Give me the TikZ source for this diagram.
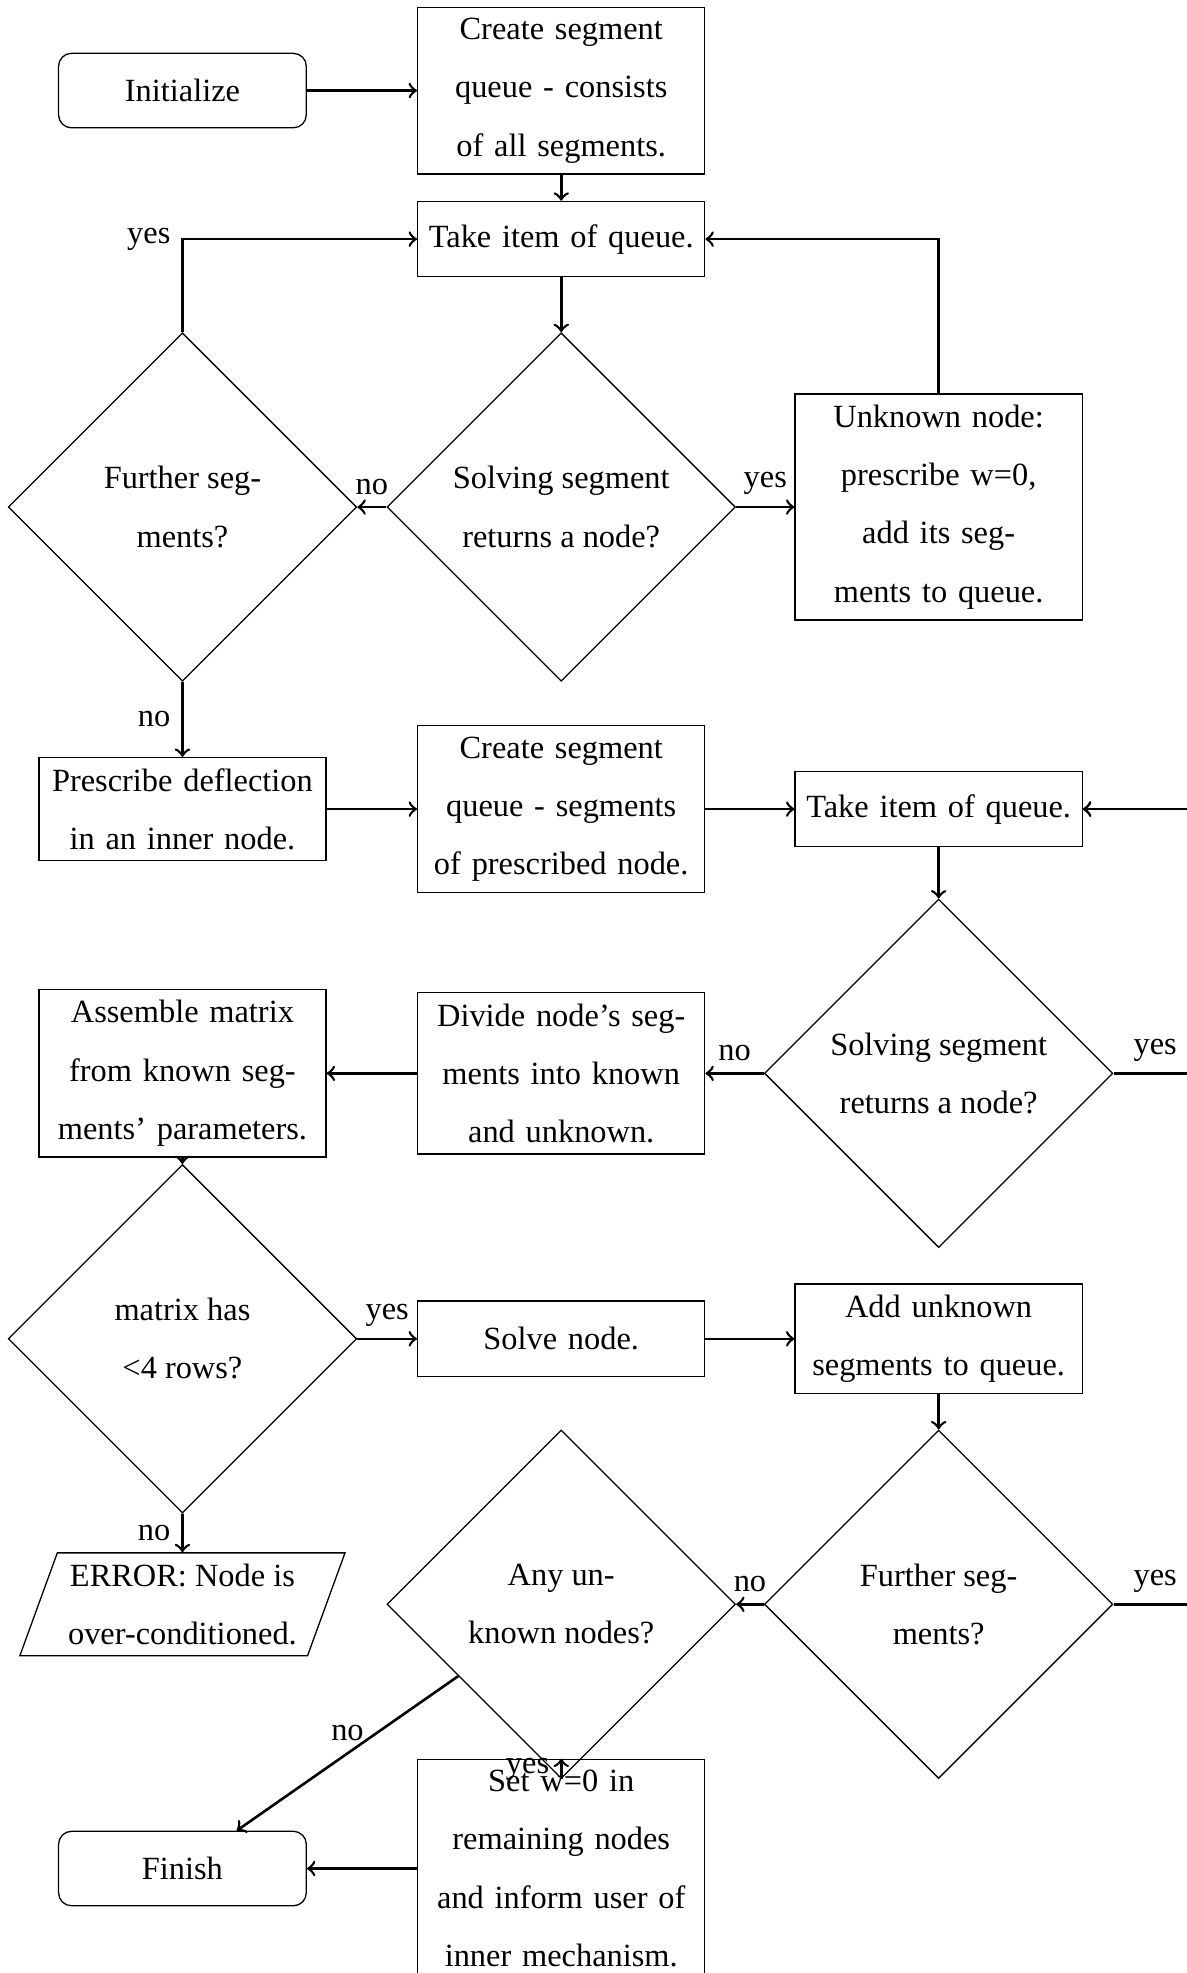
\documentclass[tikz,border=0pt]{standalone}
\usepackage{fontspec}
\setmainfont{Liberation Serif}
\usepackage{tikz}
\usetikzlibrary{shapes.geometric}

\begin{document}
\begin{tikzpicture}[every node/.style={font=\linespread{1.5}\selectfont, align=center},
    block/.style={draw, rectangle, text width=82pt, minimum height=23.3pt},
    terminal/.style={draw, rectangle, rounded corners, minimum width=76.5pt, minimum height=23pt},
    decision/.style={draw, diamond, aspect=1, minimum width=107.6pt, minimum height=107.6pt},
    inout/.style={draw, trapezium, trapezium left angle=70, trapezium right angle=110},
    line/.style={->, thick}]
    \useasboundingbox (0,0) rectangle (12.878,-21.413);

    % Stage 1: queue of all segments
    \node[terminal] (init) at (1.980,-0.983) {Initialize};
    \node[block] (queue1) at (6.091,-0.983) {Create segment\\queue - consists\\of all segments.};
    \node[block] (take1) at (6.091,-2.595) {Take item of queue.};
    \node[decision] (further1) at (1.980,-5.503) {Further seg-\\ments?};
    \node[decision] (solving1) at (6.091,-5.503) {Solving segment\\returns a node?};
    \node[block] (unknown) at (10.187,-5.503) {Unknown node:\\prescribe w=0,\\add its seg-\\ments to queue.};

    % Stage 2: segments of prescribed node
    \node[block] (prescribe) at (1.980,-8.781) {Prescribe deflection\\in an inner node.};
    \node[block] (queue2) at (6.091,-8.781) {Create segment\\queue - segments\\of prescribed node.};
    \node[block] (take2) at (10.187,-8.781) {Take item of queue.};
    \node[decision] (solving2) at (10.187,-11.649) {Solving segment\\returns a node?};
    \node[block] (divide) at (6.091,-11.649) {Divide node's seg-\\ments into known\\and unknown.};
    \node[block] (assemble) at (1.980,-11.649) {Assemble matrix\\from known seg-\\ments' parameters.};

    % Stage 3: solve node
    \node[decision] (rows) at (1.980,-14.530) {matrix has\\<4 rows?};
    \node[block] (solve) at (6.091,-14.530) {Solve node.};
    \node[block] (addunk) at (10.187,-14.530) {Add unknown\\segments to queue.};
    \node[decision] (further2) at (10.187,-17.411) {Further seg-\\ments?};
    \node[decision] (anyunk) at (6.091,-17.411) {Any un-\\known nodes?};
    \node[inout] (error) at (1.980,-17.411) {ERROR: Node is\\over-conditioned.};

    % End
    \node[terminal] (finish) at (1.980,-20.279) {Finish};
    \node[block] (setw) at (6.091,-20.279) {Set w=0 in\\remaining nodes\\and inform user of\\inner mechanism.};

    % Loop corners outside the page
    \coordinate (loopa) at (12.99,-11.649);
    \coordinate (loopb) at (12.99,-17.411);

    % Arrows
    \draw[line] (init) -- (queue1);
    \draw[line] (queue1) -- (take1);
    \draw[line] (take1) -- (solving1);
    \draw[line] (solving1) -- node[above] {no} (further1);
    \draw[line] (solving1) -- node[above] {yes} (unknown);
    \draw[line] (unknown) |- (take1);
    \draw[line] (further1) |- node[left] {yes} (take1);
    \draw[line] (further1) -- node[left] {no} (prescribe);
    \draw[line] (prescribe) -- (queue2);
    \draw[line] (queue2) -- (take2);
    \draw[line] (take2) -- (solving2);
    \draw[line] (solving2) -- node[above] {no} (divide);
    \draw[line] (solving2) -- node[above] {yes} (loopa) |- (take2);
    \draw[line] (divide) -- (assemble);
    \draw[line] (assemble) -- (rows);
    \draw[line] (rows) -- node[above] {yes} (solve);
    \draw[line] (rows) -- node[left] {no} (error);
    \draw[line] (solve) -- (addunk);
    \draw[line] (addunk) -- (further2);
    \draw[line] (further2) -- node[above] {no} (anyunk);
    \draw[line] (further2) -- node[above] {yes} (loopb) |- (take2);
    \draw[line] (anyunk) -- node[above] {no} (finish);
    \draw[line] (anyunk) -- node[left] {yes} (setw);
    \draw[line] (setw) -- (finish);
\end{tikzpicture}
\end{document}
